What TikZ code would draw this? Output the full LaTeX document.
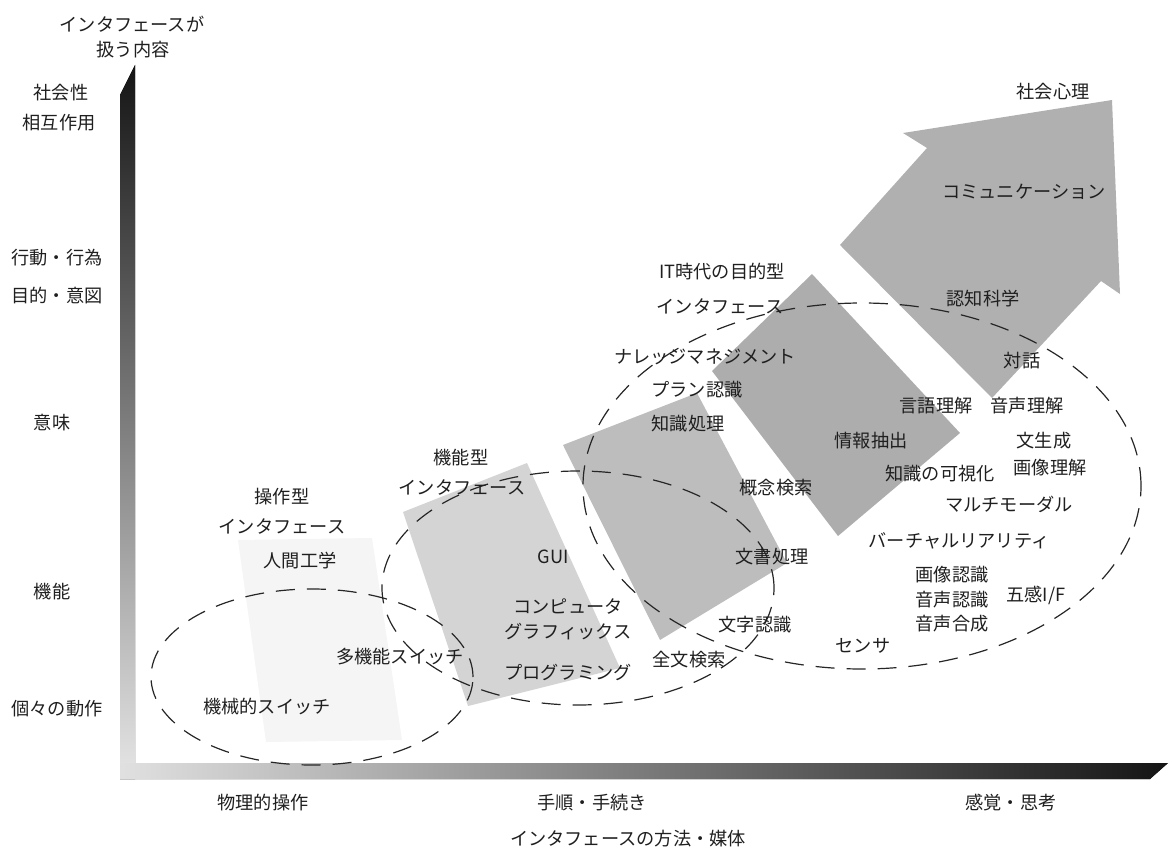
\documentclass[tikz,border=0pt]{standalone}
\usepackage{fontspec}
\setmainfont{Noto Sans CJK JP}
\begin{document}
\begin{tikzpicture}[x=1pt,y=-1pt,
  lbl/.style={font=\fontsize{18.2}{21}\selectfont, inner sep=0pt, text=black!88},
  ell/.style={draw=black!85, line width=1.2pt, dash pattern=on 19pt off 12pt},
  stageA/.style={fill=black!4},
  stageB/.style={fill=black!17},
  stageC/.style={fill=black!26},
  stageD/.style={fill=black!32},
  stageE/.style={fill=black!31}]
\useasboundingbox (0,0) rectangle (1172,848);

% axes
\fill[top color=black!92, bottom color=black!10] (120,95) -- (135,65) -- (135,779) -- (120,779) -- cycle;
\fill[left color=black!12, right color=black!92] (120,763) -- (1168,763) -- (1150,779) -- (120,779) -- cycle;

% stage shapes
\fill[stageA] (238,540) -- (372,538) -- (402,740) -- (266,742) -- cycle;
\fill[stageB] (403,512) -- (527,463) -- (620,668) -- (468,706) -- cycle;
\fill[stageC] (563,445) -- (697,393) -- (787,563) -- (660,640) -- cycle;
\fill[stageD] (712,371) -- (812,274) -- (960,433) -- (838,536) -- cycle;
\fill[stageE] (1112,100) -- (1120,294) -- (1101,281) -- (992,398) -- (840,245) -- (927,148) -- (903,133) -- cycle;

% dashed groupings
\draw[ell] (312,677) ellipse [x radius=161pt, y radius=88pt];
\draw[ell] (578,588) ellipse [x radius=196pt, y radius=117pt];
\draw[ell] (862,486) ellipse [x radius=279pt, y radius=183pt];

% axis titles
\node[lbl] (ytitle1) at (132,24) {インタフェースが};
\node[lbl] (ytitle2) at (133,50) {扱う内容};
\node[lbl] (xtitle) at (628,839) {インタフェースの方法・媒体};

% y axis labels
\node[lbl] (y1) at (61,93) {社会性};
\node[lbl] (y2) at (59,123) {相互作用};
\node[lbl] (y3) at (57,258) {行動・行為};
\node[lbl] (y4) at (57,296) {目的・意図};
\node[lbl] (y5) at (52,423) {意味};
\node[lbl] (y6) at (52,592) {機能};
\node[lbl] (y7) at (57,709) {個々の動作};

% x axis labels
\node[lbl] (x1) at (263,803) {物理的操作};
\node[lbl] (x2) at (592,803) {手順・手続き};
\node[lbl] (x3) at (1011,803) {感覚・思考};

% stage 1
\node[lbl] (s1a) at (282,497) {操作型};
\node[lbl] (s1b) at (282,526) {インタフェース};
\node[lbl] (s1c) at (300,561) {人間工学};
\node[lbl] (s1d) at (400,657) {多機能スイッチ};
\node[lbl] (s1e) at (267,707) {機械的スイッチ};

% stage 2
\node[lbl] (s2a) at (461,458) {機能型};
\node[lbl] (s2b) at (462,487) {インタフェース};
\node[lbl] (s2c) at (553,557) {GUI};
\node[lbl] (s2d) at (568,606) {コンピュータ};
\node[lbl] (s2e) at (568,632) {グラフィックス};
\node[lbl] (s2f) at (568,672) {プログラミング};

% stage 3
\node[lbl] (s3a) at (722,272) {IT時代の目的型};
\node[lbl] (s3b) at (720,306) {インタフェース};
\node[lbl] (s3c) at (705,357) {ナレッジマネジメント};
\node[lbl] (s3d) at (697,390) {プラン認識};
\node[lbl] (s3e) at (688,424) {知識処理};
\node[lbl] (s3f) at (776,488) {概念検索};
\node[lbl] (s3g) at (772,557) {文書処理};
\node[lbl] (s3h) at (755,625) {文字認識};
\node[lbl] (s3i) at (689,660) {全文検索};

% stage 4
\node[lbl] (s4a) at (871,441) {情報抽出};
\node[lbl] (s4b) at (936,406) {言語理解};
\node[lbl] (s4c) at (1027,406) {音声理解};
\node[lbl] (s4d) at (1044,441) {文生成};
\node[lbl] (s4e) at (1050,468) {画像理解};
\node[lbl] (s4f) at (940,474) {知識の可視化};
\node[lbl] (s4g) at (1009,504) {マルチモーダル};
\node[lbl] (s4h) at (959,541) {バーチャルリアリティ};
\node[lbl] (s4i) at (952,575) {画像認識};
\node[lbl] (s4j) at (952,600) {音声認識};
\node[lbl] (s4k) at (952,624) {音声合成};
\node[lbl] (s4l) at (1036,595) {五感I/F};
\node[lbl] (s4m) at (863,646) {センサ};

% stage 5
\node[lbl] (s5a) at (1053,92) {社会心理};
\node[lbl] (s5b) at (1024,192) {コミュニケーション};
\node[lbl] (s5c) at (983,299) {認知科学};
\node[lbl] (s5d) at (1022,361) {対話};
\end{tikzpicture}
\end{document}
